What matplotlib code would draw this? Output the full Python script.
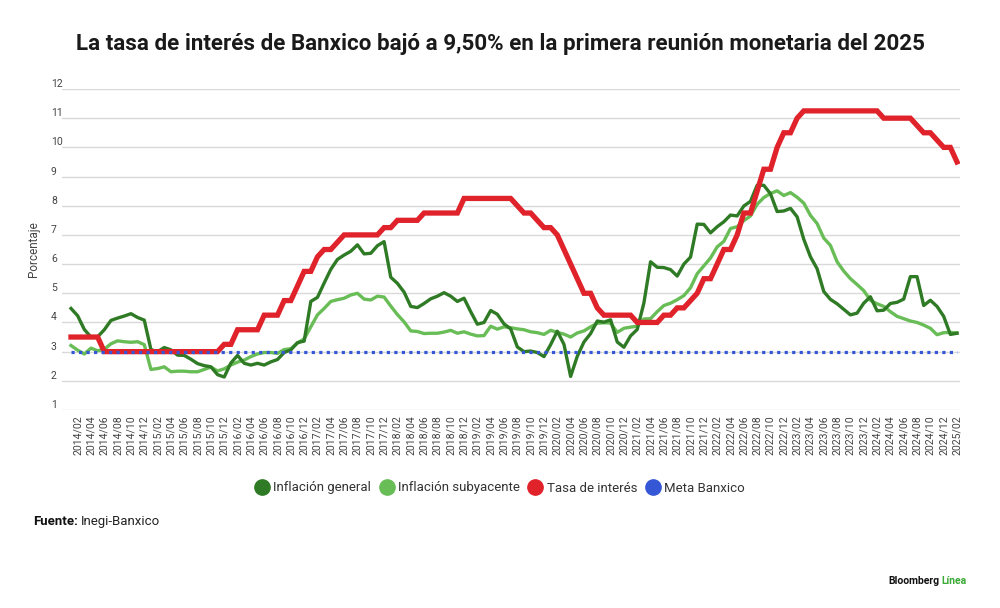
import matplotlib
matplotlib.use("Agg")
import matplotlib.pyplot as plt
from matplotlib import font_manager
from matplotlib.lines import Line2D

# ---------------- data (monthly, 2014/01 .. 2025/02) ----------------
years = list(range(2014, 2026))
months = [f"{y}/{m:02d}" for y in years for m in range(1, 13)][:134]

inflacion_general = [
    4.48, 4.23, 3.76, 3.50, 3.51, 3.75, 4.07, 4.15, 4.22, 4.30, 4.17, 4.08,
    3.07, 3.00, 3.14, 3.06, 2.88, 2.87, 2.74, 2.59, 2.52, 2.48, 2.21, 2.13,
    2.61, 2.87, 2.60, 2.54, 2.60, 2.54, 2.65, 2.73, 2.97, 3.06, 3.31, 3.36,
    4.72, 4.86, 5.35, 5.82, 6.16, 6.31, 6.44, 6.66, 6.35, 6.37, 6.63, 6.77,
    5.55, 5.34, 5.04, 4.55, 4.51, 4.65, 4.81, 4.90, 5.02, 4.90, 4.72, 4.83,
    4.37, 3.94, 4.00, 4.41, 4.28, 3.95, 3.78, 3.16, 3.00, 3.02, 2.97, 2.83,
    3.24, 3.70, 3.25, 2.15, 2.84, 3.33, 3.62, 4.05, 4.01, 4.09, 3.33, 3.15,
    3.54, 3.76, 4.67, 6.08, 5.89, 5.88, 5.81, 5.59, 6.00, 6.24, 7.37, 7.36,
    7.07, 7.28, 7.45, 7.68, 7.65, 7.99, 8.15, 8.70, 8.70, 8.41, 7.80, 7.82,
    7.91, 7.62, 6.85, 6.25, 5.84, 5.06, 4.79, 4.64, 4.45, 4.26, 4.32, 4.66,
    4.88, 4.40, 4.42, 4.65, 4.69, 4.80, 5.57, 5.57, 4.58, 4.76, 4.55, 4.21,
    3.59, 3.63,
]

inflacion_subyacente = [
    3.21, 3.05, 2.92, 3.12, 3.03, 3.08, 3.27, 3.37, 3.34, 3.32, 3.34, 3.24,
    2.39, 2.42, 2.48, 2.31, 2.33, 2.33, 2.31, 2.31, 2.39, 2.47, 2.34, 2.41,
    2.54, 2.64, 2.71, 2.83, 2.92, 2.97, 2.97, 2.94, 3.07, 3.10, 3.29, 3.44,
    3.85, 4.26, 4.48, 4.72, 4.78, 4.83, 4.94, 5.00, 4.80, 4.77, 4.90, 4.87,
    4.56, 4.27, 4.02, 3.71, 3.69, 3.62, 3.63, 3.63, 3.67, 3.73, 3.63, 3.68,
    3.60, 3.54, 3.55, 3.87, 3.77, 3.85, 3.82, 3.78, 3.75, 3.68, 3.65, 3.59,
    3.73, 3.66, 3.60, 3.50, 3.64, 3.71, 3.85, 3.97, 3.99, 3.98, 3.66, 3.80,
    3.84, 3.87, 4.12, 4.13, 4.37, 4.58, 4.66, 4.78, 4.92, 5.19, 5.67, 5.94,
    6.21, 6.59, 6.78, 7.22, 7.28, 7.49, 7.65, 8.05, 8.28, 8.42, 8.51, 8.35,
    8.45, 8.29, 8.09, 7.67, 7.39, 6.89, 6.64, 6.08, 5.76, 5.50, 5.30, 5.09,
    4.76, 4.64, 4.55, 4.37, 4.21, 4.13, 4.05, 4.00, 3.91, 3.80, 3.58, 3.65,
    3.66, 3.64,
]

tasa_interes = [
    3.50, 3.50, 3.50, 3.50, 3.50, 3.00, 3.00, 3.00, 3.00, 3.00, 3.00, 3.00,
    3.00, 3.00, 3.00, 3.00, 3.00, 3.00, 3.00, 3.00, 3.00, 3.00, 3.00, 3.25,
    3.25, 3.75, 3.75, 3.75, 3.75, 4.25, 4.25, 4.25, 4.75, 4.75, 5.25, 5.75,
    5.75, 6.25, 6.50, 6.50, 6.75, 7.00, 7.00, 7.00, 7.00, 7.00, 7.00, 7.25,
    7.25, 7.50, 7.50, 7.50, 7.50, 7.75, 7.75, 7.75, 7.75, 7.75, 7.75, 8.25,
    8.25, 8.25, 8.25, 8.25, 8.25, 8.25, 8.25, 8.00, 7.75, 7.75, 7.50, 7.25,
    7.25, 7.00, 6.50, 6.00, 5.50, 5.00, 5.00, 4.50, 4.25, 4.25, 4.25, 4.25,
    4.25, 4.00, 4.00, 4.00, 4.00, 4.25, 4.25, 4.50, 4.50, 4.75, 5.00, 5.50,
    5.50, 6.00, 6.50, 6.50, 7.00, 7.75, 7.75, 8.50, 9.25, 9.25, 10.00, 10.50,
    10.50, 11.00, 11.25, 11.25, 11.25, 11.25, 11.25, 11.25, 11.25, 11.25, 11.25, 11.25,
    11.25, 11.25, 11.00, 11.00, 11.00, 11.00, 11.00, 10.75, 10.50, 10.50, 10.25, 10.00,
    10.00, 9.50,
]

meta_banxico = [3.0] * len(months)

yticks = list(range(1, 13))

series_names = ["Inflación general", "Inflación subyacente", "Tasa de interés", "Meta Banxico"]
c_general = "#2f7a25"
c_sub = "#69bd57"
c_tasa = "#e0222b"
c_meta = "#3557d6"

# ---------------- fonts ----------------
avail = {f.name for f in font_manager.fontManager.ttflist}
base_font = "Roboto" if "Roboto" in avail else "DejaVu Sans"
narrow = "Liberation Sans Narrow" if "Liberation Sans Narrow" in avail else base_font
plt.rcParams["font.family"] = [base_font, "DejaVu Sans"]

# ---------------- figure ----------------
fig = plt.figure(figsize=(10, 6.08), dpi=100)
ax = fig.add_axes([0.062, 1 - 410 / 608, 0.898, (410 - 89) / 608])

x = list(range(len(months)))
ax.plot(x, inflacion_subyacente, color=c_sub, lw=2.4, zorder=3, solid_joinstyle="round")
ax.plot(x, inflacion_general, color=c_general, lw=2.4, zorder=4, solid_joinstyle="round")
ax.plot(x, tasa_interes, color=c_tasa, lw=3.8, zorder=5, solid_joinstyle="miter")
ax.plot(x, meta_banxico, color=c_meta, lw=2.3, ls=(0, (1, 1.35)), zorder=6)

ax.set_ylim(1, 12)
ax.set_xlim(-1.35, 133.45)
ax.set_yticks(yticks)
ax.set_yticklabels([str(v) for v in yticks])
ax.grid(axis="y", color="#d9d9d9", lw=1.0)
ax.set_axisbelow(True)
for s in ax.spines.values():
    s.set_visible(False)
ax.tick_params(axis="y", length=0, pad=8, labelsize=7.5, labelcolor="#444444")
for lab in ax.get_yticklabels():
    lab.set_horizontalalignment("left")
    lab.set_verticalalignment("bottom")

tick_pos = x[1::2]
ax.set_xticks(tick_pos)
ax.set_xticklabels([months[i] for i in tick_pos], rotation=90, fontsize=7.6, color="#444444")
ax.tick_params(axis="x", length=0, pad=4)

ax.set_ylabel("Porcentaje", fontsize=8.5, color="#444444", labelpad=2)
ax.yaxis.set_label_coords(-0.024, 0.5)

# ---------------- title (fit to width) ----------------
title = "La tasa de interés de Banxico bajó a 9,50% en la primera reunión monetaria del 2025"
t = fig.text(0.5, 1 - 50 / 608, title, ha="center", va="baseline",
             fontsize=17, fontweight="bold", color="#1a1a1a", family=[narrow, base_font, "DejaVu Sans"])
fig.canvas.draw()
w = t.get_window_extent().width
t.set_fontsize(17 * 850 / w)

# ---------------- legend ----------------
handles = [Line2D([], [], ls="none", marker="o", markersize=11, markerfacecolor=c, markeredgecolor=c)
           for c in (c_general, c_sub, c_tasa, c_meta)]
fig.legend(handles, series_names, loc="center", bbox_to_anchor=(0.5, 1 - 488 / 608), ncol=4,
           frameon=False, fontsize=9.5, handletextpad=0.35, columnspacing=0.7, handlelength=1.0,
           labelcolor="#333333")

# ---------------- source & brand ----------------
renderer = fig.canvas.get_renderer()
f1 = fig.text(33 / 1000, 1 - 525 / 608, "Fuente:", fontsize=9.5, fontweight="bold",
              va="baseline", color="#111111")
w1 = f1.get_window_extent(renderer).width
fig.text((33 + w1 + 3) / 1000, 1 - 525 / 608, "Inegi-Banxico", fontsize=9.5,
         va="baseline", color="#222222")

b1 = fig.text(888 / 1000, 1 - 584 / 608, "Bloomberg", fontsize=7.5, fontweight="bold",
              va="baseline", color="#111111")
wb = b1.get_window_extent(renderer).width
fig.text((888 + wb + 2.5) / 1000, 1 - 584 / 608, "Línea", fontsize=7.5, fontweight="bold",
         va="baseline", color="#3aa935")

fig.savefig("out.png", dpi=100)
